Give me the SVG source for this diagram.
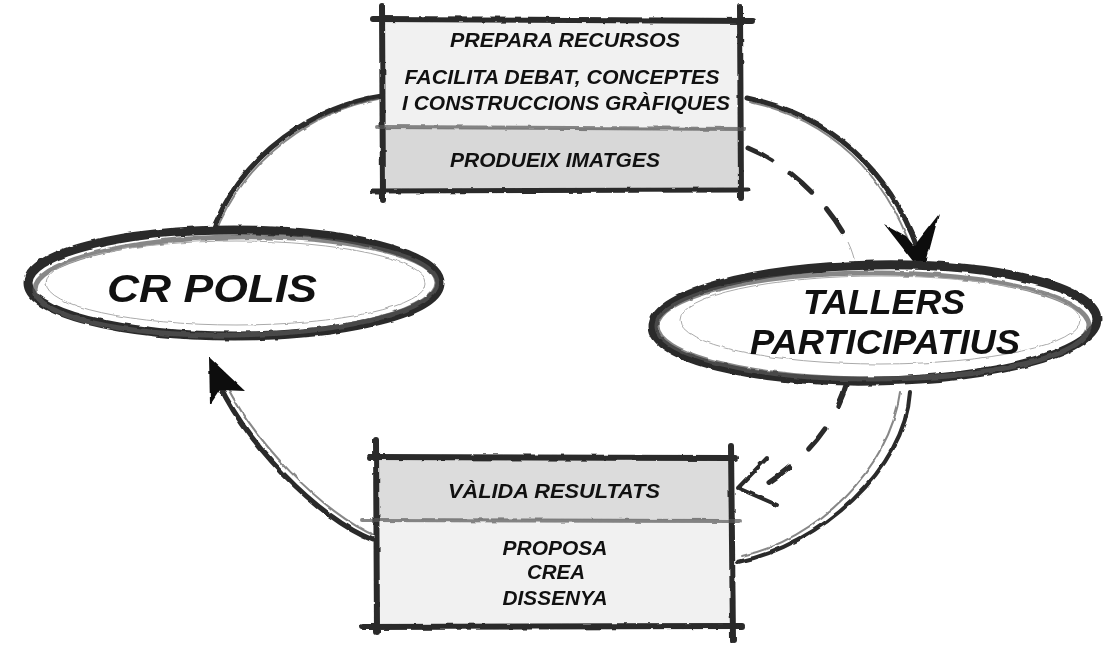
<svg xmlns="http://www.w3.org/2000/svg" width="1103" height="660" viewBox="0 0 1103 660">
<style>
.t{font-family:"Liberation Sans",Arial,sans-serif;font-weight:bold;font-style:italic;fill:#111;text-anchor:middle}
.s{font-size:19.5px}
.b{font-size:39px}
.pen{fill:none;stroke:#2a2a2a;stroke-linecap:round;stroke-linejoin:round}
.pen2{fill:none;stroke:#555;stroke-linecap:round;opacity:.7}
.thin{fill:none;stroke:#aaa;stroke-width:1}
</style>
<defs>
<filter id="rough" x="-10%" y="-10%" width="120%" height="120%">
<feTurbulence type="fractalNoise" baseFrequency="0.09" numOctaves="2" seed="3" result="n"/>
<feDisplacementMap in="SourceGraphic" in2="n" scale="3" xChannelSelector="R" yChannelSelector="G"/>
</filter>
</defs>
<rect width="1103" height="660" fill="#fff"/>

<g id="connectors" filter="url(#rough)">
<path class="pen" stroke-width="5" d="M382,96 C320,105 240,150 210,238"/>
<path class="pen2" stroke-width="2" d="M378,99 C318,110 245,155 214,236"/>
<path class="pen" stroke-width="5" d="M747,98 C830,115 890,170 918,250"/>
<path class="pen2" stroke-width="2" d="M750,102 C832,120 885,175 912,250"/>
<path d="M923,274 L884,224 L906,236 L914,246 L939,214 Z" fill="#111"/>
<path class="pen" stroke-width="5" stroke-dasharray="28,22" d="M748,148 C790,165 830,205 848,242"/>
<path class="thin" d="M848,242 C852,250 854,258 856,266"/>
<path class="pen" stroke-width="4" d="M910,392 C905,470 820,545 738,562"/>
<path class="pen2" stroke-width="2" d="M900,392 C890,470 815,540 742,556"/>
<path class="pen" stroke-width="5" stroke-dasharray="26,26" d="M847,382 C835,425 805,460 762,487"/>
<path class="pen" stroke-width="4" d="M767,458 L738,488 L777,505"/>
<path class="pen" stroke-width="5" d="M373,540 C320,520 240,440 214,372"/>
<path class="pen2" stroke-width="2" d="M376,536 C325,515 250,440 220,372"/>
<path d="M209,357 L210,405 L220,390 L245,391 Z" fill="#111"/>
</g>

<g id="node-top">
<rect x="382" y="20" width="358" height="108" fill="#f1f1f1"/>
<rect x="382" y="128" width="358" height="62" fill="#d8d8d8"/>
<g filter="url(#rough)">
<path class="pen" stroke-width="6" d="M373,19 L752,21"/>
<path class="pen" stroke-width="5" d="M372,191 L748,190"/>
<path class="pen" stroke-width="6" d="M382,6 L383,200"/>
<path class="pen" stroke-width="6" d="M740,6 L741,198"/>
<path class="pen2" stroke-width="4" d="M378,127 L745,129"/>
</g>
<text class="t s" x="565" y="47" textLength="230" lengthAdjust="spacingAndGlyphs">PREPARA RECURSOS</text>
<text class="t s" x="562" y="84" textLength="315" lengthAdjust="spacingAndGlyphs">FACILITA DEBAT, CONCEPTES</text>
<text class="t s" x="566" y="110" textLength="328" lengthAdjust="spacingAndGlyphs">I CONSTRUCCIONS GRÀFIQUES</text>
<text class="t s" x="555" y="167" textLength="210" lengthAdjust="spacingAndGlyphs">PRODUEIX IMATGES</text>
</g>

<g id="node-crpolis">
<ellipse cx="234" cy="283" rx="206" ry="53" fill="#fff"/>
<g filter="url(#rough)">
<ellipse class="pen" stroke-width="9" stroke="#333" cx="234" cy="283" rx="206" ry="53"/>
<ellipse class="pen2" stroke-width="5" cx="236" cy="286" rx="201" ry="49" transform="rotate(-1 236 286)"/>
<ellipse class="thin" cx="236" cy="283" rx="190" ry="42"/>
</g>
<text class="t b" x="212" y="302" font-size="38" textLength="210" lengthAdjust="spacingAndGlyphs">CR POLIS</text>
</g>

<g id="node-tallers">
<ellipse cx="875" cy="323" rx="222" ry="58" fill="#fff"/>
<g filter="url(#rough)">
<ellipse class="pen" stroke-width="9" stroke="#333" cx="875" cy="323" rx="222" ry="58" transform="rotate(-1 875 323)"/>
<ellipse class="pen2" stroke-width="5" cx="873" cy="326" rx="216" ry="53"/>
<ellipse class="thin" cx="880" cy="320" rx="200" ry="44"/>
</g>
<text class="t" font-size="35" x="884" y="314" textLength="162" lengthAdjust="spacingAndGlyphs">TALLERS</text>
<text class="t" font-size="35" x="885" y="354" textLength="270" lengthAdjust="spacingAndGlyphs">PARTICIPATIUS</text>
</g>

<g id="node-bottom">
<rect x="377" y="458" width="354" height="62" fill="#dcdcdc"/>
<rect x="377" y="520" width="354" height="107" fill="#f1f1f1"/>
<g filter="url(#rough)">
<path class="pen" stroke-width="6" d="M370,457 L735,458"/>
<path class="pen" stroke-width="6" d="M362,627 L742,626"/>
<path class="pen" stroke-width="6" d="M376,440 L377,632"/>
<path class="pen" stroke-width="6" d="M731,446 L733,640"/>
<path class="pen2" stroke-width="4" d="M362,520 L740,521"/>
</g>
<text class="t s" x="554" y="498" textLength="212" lengthAdjust="spacingAndGlyphs">VÀLIDA RESULTATS</text>
<text class="t s" x="555" y="555" textLength="105" lengthAdjust="spacingAndGlyphs">PROPOSA</text>
<text class="t s" x="556" y="579" textLength="58" lengthAdjust="spacingAndGlyphs">CREA</text>
<text class="t s" x="555" y="605" textLength="105" lengthAdjust="spacingAndGlyphs">DISSENYA</text>
</g>
</svg>
